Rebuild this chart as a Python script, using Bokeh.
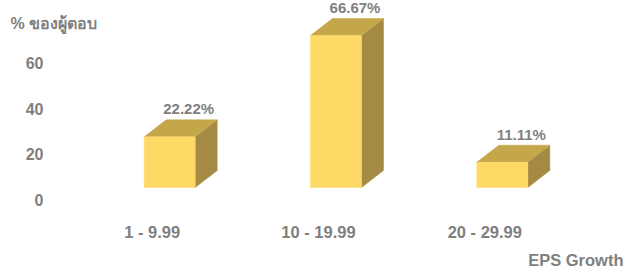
from bokeh.plotting import figure
from bokeh.models import Range1d
from bokeh.embed import file_html
from bokeh.resources import INLINE
from bokeh.core.properties import value

# ---- data ----
categories = ["1 - 9.99", "10 - 19.99", "20 - 29.99"]
percent = [22.22, 66.67, 11.11]
y_ticks = [0, 20, 40, 60]
y_title = "% ของผู้ตอบ"
x_title = "EPS Growth"

# ---- geometry (pixels) ----
W, H = 628, 270
PX_X = 166.3      # pixels per category step
PX_Y = 2.28       # pixels per percent unit
X0 = 151.7        # canvas x of first category centre
Y0 = 201.0        # canvas y of value 0
YOFF = -1.5       # em-middle -> cap-middle correction


def dx(px):
    return px / PX_X


def dy(px):
    return px / PX_Y


def xd(cx):
    return (cx - X0) / PX_X


def yd(cy):
    return (Y0 - cy) / PX_Y


FRONT = "#FFD966"
TOP = "#C4A64B"
SIDE = "#A48A42"
GRAY = "#7F7F7F"
FONT = value("Liberation Sans")

p = figure(width=W, height=H, output_backend="svg", toolbar_location=None,
           x_range=Range1d(xd(0), xd(W)), y_range=Range1d(yd(H), yd(0)),
           x_axis_type=None, y_axis_type=None, min_border=0, title=None)
p.outline_line_color = None
p.background_fill_color = "white"
p.border_fill_color = "white"

idx = list(range(len(categories)))
off = dx(17.5)       # front face centre offset from category label
hw = dx(25.5)        # half width of front face
ddx = dx(22)         # depth offset x
ddy = dy(17)         # depth offset y
base = dy(14)        # front face bottom above zero

left = [i + off - hw for i in idx]
right = [i + off + hw for i in idx]
bottom = [base for _ in idx]
top = [base + v for v in percent]

# side faces
xs_side = [[r, r + ddx, r + ddx, r] for r in right]
ys_side = [[b, b + ddy, t + ddy, t] for b, t in zip(bottom, top)]
p.patches(xs_side, ys_side, fill_color=SIDE, line_color=SIDE, line_width=0.5)

# top faces
xs_top = [[l, r, r + ddx, l + ddx] for l, r in zip(left, right)]
ys_top = [[t, t, t + ddy, t + ddy] for t in top]
p.patches(xs_top, ys_top, fill_color=TOP, line_color=TOP, line_width=0.5)

# front faces
p.quad(left=left, right=right, bottom=bottom, top=top,
       fill_color=FRONT, line_color=FRONT, line_width=0.5)

# data labels
p.text(x=[i + off + dx(19) for i in idx],
       y=[t + ddy + dy(9.5) for t in top],
       text=[f"{v:.2f}%" for v in percent],
       text_font=FONT, text_font_style="bold", text_font_size="15px",
       text_color=GRAY, text_align="center", text_baseline="middle",
       y_offset=YOFF)

# y tick labels
p.text(x=[xd(43)] * len(y_ticks), y=y_ticks, text=[str(t) for t in y_ticks],
       text_font=FONT, text_font_style="bold", text_font_size="16px",
       text_color=GRAY, text_align="right", text_baseline="middle",
       y_offset=YOFF)

# category labels
p.text(x=idx, y=[yd(232.5)] * len(idx), text=categories,
       text_font=FONT, text_font_style="bold", text_font_size="16.5px",
       text_color=GRAY, text_align="center", text_baseline="middle",
       y_offset=YOFF)

# axis titles
p.text(x=[xd(10)], y=[yd(24)], text=[y_title],
       text_font=FONT, text_font_style="bold", text_font_size="16px",
       text_color=GRAY, text_align="left", text_baseline="middle",
       y_offset=YOFF)
p.text(x=[xd(623)], y=[yd(261)], text=[x_title],
       text_font=FONT, text_font_style="bold", text_font_size="16.5px",
       text_color=GRAY, text_align="right", text_baseline="middle",
       y_offset=YOFF)

open("out.html", "w").write(file_html(p, INLINE))
